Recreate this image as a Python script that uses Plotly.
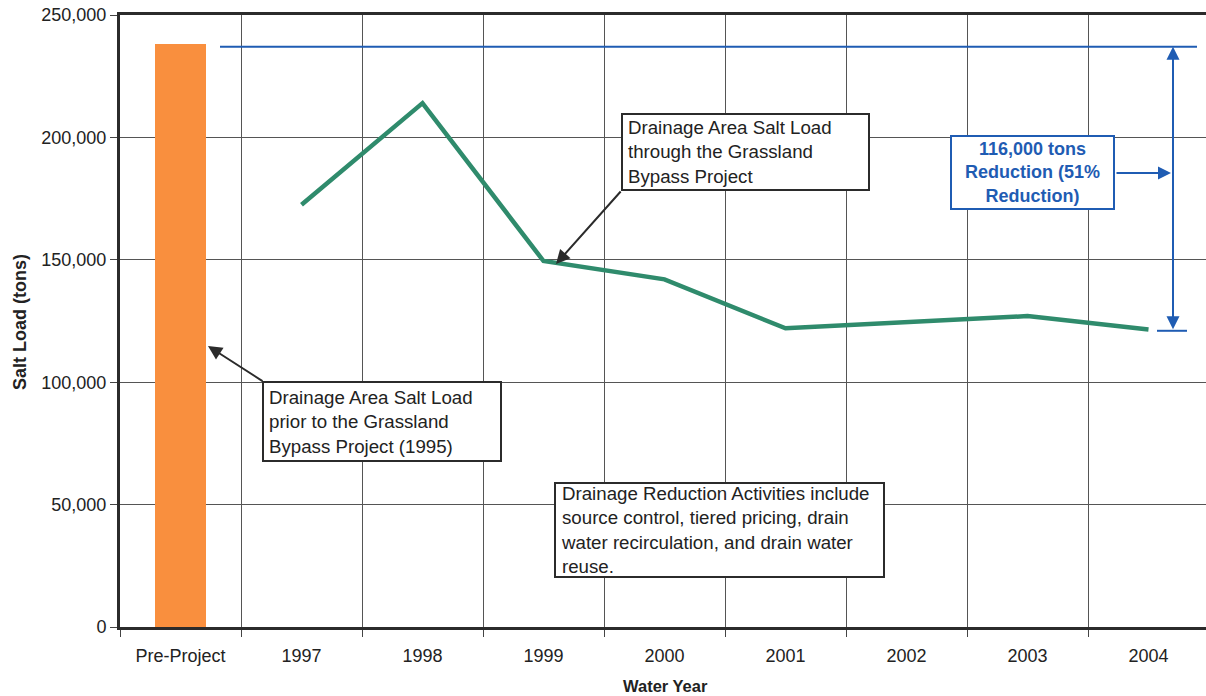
import plotly.graph_objects as go

# ---- data -------------------------------------------------------------
categories = ["Pre-Project", "1997", "1998", "1999", "2000",
              "2001", "2002", "2003", "2004"]
pre_project_load = [238000]
project_years = categories[1:]
project_loads = [172500, 214000, 149500, 142000, 122000, 124300, 127000, 121500]

reduction_top = 237000        # pre-project reference level
reduction_tons = 116000       # stated reduction
reduction_bottom = reduction_top - reduction_tons

# ---- geometry helpers (pixel -> axis units) --------------------------
L, T, B = 120, 15, 627          # plot-area left / top / bottom in pixels
CAT_PX = 121                    # pixel width of one category
Y_MAX = 250000


def dx(px):
    return (px - L) / CAT_PX - 0.5


def dy(py):
    return (B - py) * Y_MAX / (B - T)


FONT = "Liberation Sans, Arial, sans-serif"
BLUE = "#1f5cb3"
DARK = "#2b2b2b"

fig = go.Figure()

fig.add_trace(go.Bar(
    x=categories[:1], y=pre_project_load,
    marker=dict(color="#f98f3e", line=dict(width=0)),
    width=0.42, hoverinfo="skip", showlegend=False,
))

fig.add_trace(go.Scatter(
    x=project_years, y=project_loads, mode="lines",
    line=dict(color="#2f8b6c", width=4.5),
    hoverinfo="skip", showlegend=False,
))

shapes = []
annotations = []

# reference level and the reduction bracket
shapes.append(dict(type="line", xref="x", yref="y",
                   x0=dx(220), x1=dx(1197), y0=reduction_top, y1=reduction_top,
                   line=dict(color=BLUE, width=2)))
shapes.append(dict(type="line", xref="x", yref="y",
                   x0=dx(1157), x1=dx(1187), y0=reduction_bottom, y1=reduction_bottom,
                   line=dict(color=BLUE, width=2)))
annotations.append(dict(x=dx(1173), y=reduction_top, ax=dx(1173), ay=reduction_bottom,
                        xref="x", yref="y", axref="x", ayref="y", text="",
                        showarrow=True, arrowhead=2, arrowside="end+start",
                        arrowsize=1.3, arrowwidth=2, arrowcolor=BLUE))


def text_box(x0, y0, x1, y1, lines, color=DARK, bold=False, align="left",
             size=18.7, text_x=None):
    shapes.append(dict(type="rect", xref="x", yref="y",
                       x0=dx(x0), x1=dx(x1), y0=dy(y1), y1=dy(y0),
                       line=dict(color=color, width=2), fillcolor="white",
                       layer="above"))
    txt = "<br>".join(lines)
    if bold:
        txt = "<b>" + txt + "</b>"
    if align == "left":
        tx, anchor = dx(text_x if text_x else x0 + 4), "left"
    else:
        tx, anchor = dx((x0 + x1) / 2), "center"
    annotations.append(dict(x=tx, y=dy((y0 + y1) / 2), xref="x", yref="y",
                            xanchor=anchor, yanchor="middle", align=align,
                            text=txt, showarrow=False,
                            font=dict(family=FONT, size=size, color=color if bold else "#222")))


# pre-project callout
text_box(263, 382, 501, 461,
         ["Drainage Area Salt Load", "prior to the Grassland", "Bypass Project (1995)"])
annotations.append(dict(x=dx(208), y=dy(346), ax=dx(264), ay=dy(382),
                        xref="x", yref="y", axref="x", ayref="y", text="",
                        showarrow=True, arrowhead=2, arrowsize=1.4, arrowwidth=2,
                        arrowcolor=DARK))

# project-period callout
text_box(622, 114, 869, 190,
         ["Drainage Area Salt Load", "through the Grassland", "Bypass Project"])
annotations.append(dict(x=dx(556), y=dy(264), ax=dx(622), ay=dy(190),
                        xref="x", yref="y", axref="x", ayref="y", text="",
                        showarrow=True, arrowhead=2, arrowsize=1.4, arrowwidth=2,
                        arrowcolor=DARK))

# activities note
text_box(555, 483, 884, 577,
         ["Drainage Reduction Activities include",
          "source control, tiered pricing, drain",
          "water recirculation, and drain water",
          "reuse."])

# reduction label
text_box(951, 136, 1114, 209,
         [f"{reduction_tons:,} tons", "Reduction (51%", "Reduction)"],
         color=BLUE, bold=True, align="center", size=18)
annotations.append(dict(x=dx(1171), y=dy(173), ax=dx(1115), ay=dy(173),
                        xref="x", yref="y", axref="x", ayref="y", text="",
                        showarrow=True, arrowhead=2, arrowsize=1.3, arrowwidth=2,
                        arrowcolor=BLUE))

# axis titles
annotations.append(dict(x=(665 - L) / 1086, y=-(686 - B) / (B - T),
                        xref="paper", yref="paper", text="<b>Water Year</b>",
                        showarrow=False, xanchor="center", yanchor="middle",
                        font=dict(family=FONT, size=16.5, color="#222")))
annotations.append(dict(x=-(L - 20) / 1086, y=(B - 322) / (B - T),
                        xref="paper", yref="paper", text="<b>Salt Load (tons)</b>",
                        textangle=-90, showarrow=False,
                        xanchor="center", yanchor="middle",
                        font=dict(family=FONT, size=18, color="#222")))

fig.update_layout(
    width=1206, height=696,
    margin=dict(l=L, r=0, t=T, b=696 - B),
    paper_bgcolor="white", plot_bgcolor="white",
    font=dict(family=FONT, size=18, color="#222"),
    shapes=shapes, annotations=annotations,
    bargap=0,
)

fig.update_xaxes(
    type="category", categoryorder="array", categoryarray=categories,
    range=[-0.5, -0.5 + 1086 / CAT_PX],
    tickson="boundaries", ticks="outside", ticklen=7, tickwidth=1, tickcolor="#444",
    ticklabelstandoff=10,
    showgrid=True, gridcolor="#555", gridwidth=1,
    showline=True, linecolor=DARK, linewidth=3, mirror=True,
    tickfont=dict(family=FONT, size=18, color="#222"),
    zeroline=False,
)
fig.update_yaxes(
    range=[0, Y_MAX], tickvals=[0, 50000, 100000, 150000, 200000, 250000],
    tickformat=",", ticks="outside", ticklen=7, tickwidth=1, tickcolor="#444",
    showgrid=True, gridcolor="#555", gridwidth=1,
    showline=True, linecolor=DARK, linewidth=3,
    tickfont=dict(family=FONT, size=18, color="#222"),
    zeroline=False,
)

fig.write_html("out.html")
